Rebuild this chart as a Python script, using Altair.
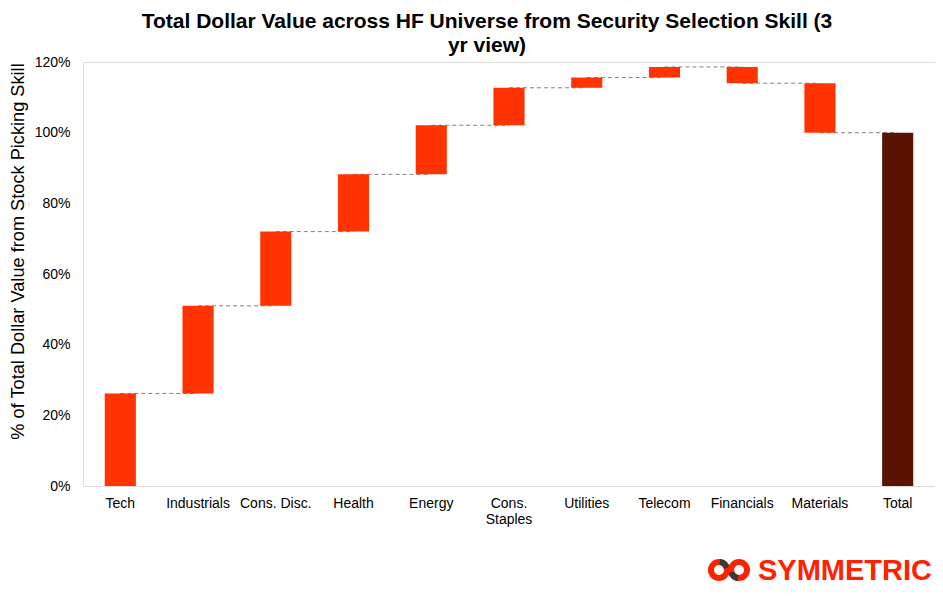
import altair as alt
import pandas as pd
import math

categories = ["Tech", "Industrials", "Cons. Disc.", "Health", "Energy", "Cons. Staples",
              "Utilities", "Telecom", "Financials", "Materials", "Total"]
contributions = [26.2, 24.8, 21.0, 16.2, 13.9, 10.6, 2.9, 3.0, -4.6, -14.0]
y_ticks = [0, 20, 40, 60, 80, 100, 120]

title_lines = ["Total Dollar Value across HF Universe from Security Selection Skill (3", "yr view)"]
y_title = "% of Total Dollar Value from Stock Picking Skill"

# Build waterfall table from the contributions
rows = []
level = 0.0
for cat, c in zip(categories[:-1], contributions):
    rows.append({"cat": cat, "start": level, "end": level + c, "kind": "step"})
    level += c
rows.append({"cat": categories[-1], "start": 0.0, "end": level, "kind": "total"})
bars_df = pd.DataFrame(rows)

conn_df = pd.DataFrame({
    "cat": categories[:-1],
    "next": categories[1:],
    "level": [r["end"] for r in rows[:-1]],
})

FONT = "Liberation Sans"
RED = "#FF2200"

x_scale = alt.Scale(paddingInner=0.6, paddingOuter=0.28)

x_axis = alt.Axis(
    title=None, labelAngle=0, ticks=False, tickSize=0, labelPadding=10,
    domainColor="#D9D9D9", domainWidth=1, labelFontSize=14, labelColor="#000000",
    labelFont=FONT, labelLineHeight=16,
    labelExpr="datum.label == 'Cons. Staples' ? ['Cons.', 'Staples'] : datum.label",
)
y_axis = alt.Axis(
    values=y_ticks, labelExpr="datum.value + '%'", grid=False, domain=False,
    ticks=False, tickSize=0, labelPadding=13, labelFontSize=14, labelColor="#000000",
    labelFont=FONT, title=y_title, titleFontSize=18.2, titleFontWeight="normal",
    titleFont=FONT, titleColor="#000000", titleX=-65, titleY=189, titleAngle=270,
    titleAlign="center", titleBaseline="middle",
)

connectors = alt.Chart(conn_df).mark_rule(
    color="#808080", strokeDash=[4, 3], strokeWidth=1
).encode(
    x=alt.X("cat:N", sort=categories, scale=x_scale, axis=x_axis),
    x2="next:N",
    y=alt.Y("level:Q", scale=alt.Scale(domain=[0, 120]), axis=y_axis),
)

bars = alt.Chart(bars_df).mark_bar().encode(
    x=alt.X("cat:N", sort=categories, scale=x_scale, axis=x_axis),
    y=alt.Y("start:Q", scale=alt.Scale(domain=[0, 120]), axis=y_axis),
    y2="end:Q",
    color=alt.Color("kind:N", scale=alt.Scale(domain=["step", "total"],
                                              range=["#FF3300", "#5C1200"]), legend=None),
)

# Logo (decoration)
logo_df = pd.DataFrame({"name": ["SYMMETRIC"]})
logo_text = alt.Chart(logo_df).mark_text(
    font=FONT, fontWeight="bold", fontSize=29, color=RED,
    align="left", baseline="middle",
).encode(x=alt.value(675), y=alt.value(509), text="name:N")


def ring(cx, cy, t0, t1, color):
    return alt.Chart(logo_df).mark_arc(
        x=cx, y=cy, radius=11, radius2=5, theta=t0, theta2=t1
    ).encode(color=alt.value(color))


logo_parts = [
    ring(636, 508, 0, 2 * math.pi, RED),
    ring(636, 508, 0.1, 1.3, "#3A3A3A"),
    ring(656, 508, 0, 2 * math.pi, RED),
    ring(656, 508, math.pi + 0.1, math.pi + 1.3, "#3A3A3A"),
]

chart = alt.layer(connectors, bars, *logo_parts, logo_text).properties(
    width=852,
    height=424,
    title=alt.TitleParams(
        title_lines, font=FONT, fontSize=21, fontWeight="bold", color="#000000",
        anchor="middle", dx=-22, dy=7, offset=6, lineHeight=24,
    ),
    autosize=alt.AutoSizeParams(type="none"),
    padding={"left": 75, "top": 54, "right": 0, "bottom": 103},
).configure_view(stroke=None).configure(font=FONT)

chart.save("out.html", embed_options={"renderer": "svg", "actions": False})
